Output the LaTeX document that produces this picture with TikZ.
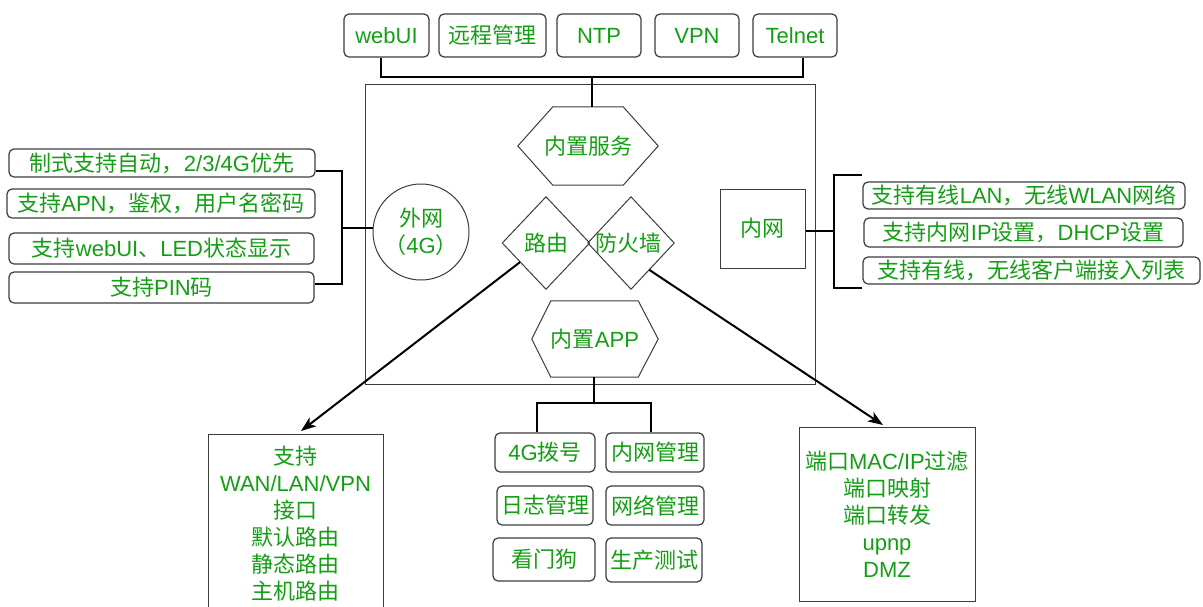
\documentclass[tikz,border=0pt]{standalone}
\usepackage{fontspec}
\setmainfont{Liberation Sans}
\newfontfamily\cjk{Noto Sans CJK SC}
\newcommand\zh[1]{{\cjk #1}}
\usetikzlibrary{arrows.meta,calc}
\definecolor{tgreen}{RGB}{20,158,20}
\definecolor{bord}{RGB}{60,60,60}
\tikzset{
  txt/.style={text=tgreen,font=\fontsize{22}{27}\selectfont,inner sep=0pt,align=center},
  rbox/.style={txt,draw=bord,line width=1.2pt,rounded corners=5pt},
  sbox/.style={txt,draw=bord,line width=1pt},
  conn/.style={line width=2pt,black},
  arr/.style={conn,-{Stealth[length=15pt,width=11pt,inset=4pt]}},
  shp/.style={draw=bord,line width=1pt}
}
\begin{document}
\begin{tikzpicture}[x=1pt,y=-1pt]
\useasboundingbox (0,0) rectangle (1203,606);
\clip (0,0) rectangle (1203,606);
% main container
\node[shp,minimum width=450,minimum height=300,inner sep=0] (main) at (590,234) {};
% top services
\node[rbox,minimum width=85,minimum height=43] (webui) at (386.5,35.5) {webUI};
\node[rbox,minimum width=107,minimum height=43] (remote) at (492.5,35.5) {\zh{远程管理}};
\node[rbox,minimum width=84,minimum height=43] (ntp) at (599,35.5) {NTP};
\node[rbox,minimum width=84,minimum height=43] (vpn) at (697,35.5) {VPN};
\node[rbox,minimum width=84,minimum height=43] (telnet) at (795,35.5) {Telnet};
% hexagon services
\node[txt,minimum width=140,minimum height=78] (svc) at (588,146) {\zh{内置服务}};
\draw[shp] (svc.west) -- ([xshift=35pt]svc.north west) -- ([xshift=-35pt]svc.north east) -- (svc.east) -- ([xshift=-35pt]svc.south east) -- ([xshift=35pt]svc.south west) -- cycle;
% top connector
\coordinate (tl) at (381,77);
\coordinate (tr) at (803,77);
\coordinate (tm) at (592,77);
\draw[conn] (tl |- webui.south) -- (tl) -- (tr) -- (tr |- telnet.south);
\draw[conn] (tm) -- (tm |- svc.north);
% outer network circle
\node[sbox,circle,minimum size=96] (wan) at (421,232) {\zh{外网}\\\zh{（}4G\zh{）}};
% diamonds
\node[txt,minimum width=87,minimum height=92] (rt) at (546,243) {\zh{路由}};
\draw[shp] (rt.west) -- (rt.north) -- (rt.east) -- (rt.south) -- cycle;
\node[txt,minimum width=86,minimum height=92] (fw) at (631,243) {\hspace*{-6pt}\zh{防火墙}};
\draw[shp] (fw.west) -- (fw.north) -- (fw.east) -- (fw.south) -- cycle;
% inner network
\node[sbox,minimum width=85,minimum height=79] (lan) at (762.5,228.5) {\zh{内网}};
% app hexagon
\node[txt,minimum width=126,minimum height=76] (app) at (595,339) {\zh{内置}APP};
\draw[shp] (app.west) -- ([xshift=19pt]app.north west) -- ([xshift=-20pt]app.north east) -- (app.east) -- ([xshift=-20pt]app.south east) -- ([xshift=19pt]app.south west) -- cycle;
% left feature boxes
\node[rbox,minimum width=306,minimum height=28] (l1) at (162,163) {\zh{制式支持自动，}2/3/4G\zh{优先}};
\node[rbox,minimum width=308,minimum height=29] (l2) at (161,203.5) {\zh{支持}APN\zh{，鉴权，用户名密码}};
\node[rbox,minimum width=305,minimum height=31] (l3) at (161.5,248.5) {\zh{支持}webUI\zh{、}LED\zh{状态显示}};
\node[rbox,minimum width=305,minimum height=31] (l4) at (161.5,287.5) {\zh{支持}PIN\zh{码}};
\coordinate (lbt) at (342,171);
\coordinate (lbb) at (342,284);
\draw[conn] (l1.east |- lbt) -- (lbt) -- (lbb) -- (l4.east |- lbb);
\draw[conn] (wan.175 -| lbt) -- (wan.175);
% right feature boxes
\node[rbox,minimum width=322,minimum height=27] (r1) at (1024,195.5) {\zh{支持有线}LAN\zh{，无线}WLAN\zh{网络}};
\node[rbox,minimum width=319,minimum height=29] (r2) at (1023.5,232.5) {\zh{支持内网}IP\zh{设置，}DHCP\zh{设置}};
\node[rbox,minimum width=337,minimum height=27] (r3) at (1031.5,270.5) {\zh{支持有线，无线客户端接入列表}};
\coordinate (rbm) at (834,231);
\coordinate (rbt) at (834,175);
\coordinate (rbb) at (834,288);
\coordinate (rbte) at (862,175);
\coordinate (rbbe) at (862,288);
\draw[conn] (rbte) -- (rbt) -- (rbb) -- (rbbe);
\draw[conn] (lan.east |- rbm) -- (rbm);
% bottom-left routing box
\node[sbox,minimum width=175,minimum height=178] (lbox) at (295.5,523.5) {\zh{支持}\\WAN/LAN/VPN\\\zh{接口}\\\zh{默认路由}\\\zh{静态路由}\\\zh{主机路由}};
% bottom-right firewall box
\node[sbox,minimum width=176,minimum height=174] (rbox) at (887,514) {\zh{端口}MAC/IP\zh{过滤}\\\zh{端口映射}\\\zh{端口转发}\\upnp\\DMZ};
% app grid
\node[rbox,minimum width=100,minimum height=39] (g1) at (545,452.5) {4G\zh{拨号}};
\node[rbox,minimum width=98,minimum height=39] (g2) at (655,452.5) {\zh{内网管理}};
\node[rbox,minimum width=96,minimum height=39] (g3) at (545,505.5) {\zh{日志管理}};
\node[rbox,minimum width=98,minimum height=39] (g4) at (655,505.5) {\zh{网络管理}};
\node[rbox,minimum width=102,minimum height=43] (g5) at (544,559.5) {\zh{看门狗}};
\node[rbox,minimum width=96,minimum height=44] (g6) at (654,560) {\zh{生产测试}};
\coordinate (am) at (594,403);
\coordinate (al) at (537,403);
\coordinate (ar) at (651,403);
\draw[conn] (am |- app.south) -- (am);
\draw[conn] (al |- g1.north) -- (al) -- (ar) -- (ar |- g2.north);
% arrows
\draw[arr] ($(rt.west)!0.41!(rt.south)$) -- ([xshift=5.5pt,yshift=3pt]lbox.north);
\draw[arr] ($(fw.south)!0.42!(fw.east)$) -- ([xshift=-4pt,yshift=1.5pt]rbox.north);
\end{tikzpicture}
\end{document}
